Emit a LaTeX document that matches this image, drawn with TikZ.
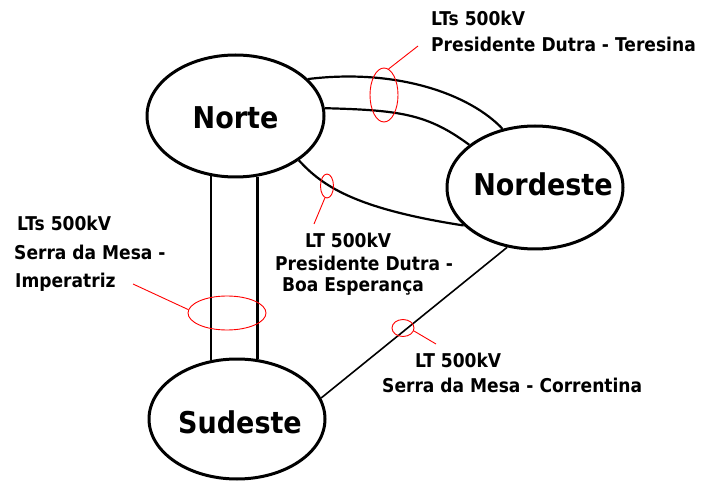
\documentclass[tikz,border=0pt]{standalone}
\usepackage{fontspec}
\setmainfont{DejaVu Sans}[FakeStretch=0.9]
\usetikzlibrary{shapes.geometric}
\begin{document}
\begin{tikzpicture}[x=1pt,y=-1pt,
  hub/.style={ellipse, draw, line width=3pt, inner sep=0pt},
  link/.style={line width=2.2pt},
  thinlink/.style={line width=1.6pt},
  ring/.style={ellipse, draw=red, line width=0.9pt, inner sep=0pt},
  pointer/.style={draw=red, line width=0.9pt},
  lbl/.style={anchor=base west, inner sep=0pt, font=\fontsize{19}{22}\selectfont\bfseries},
  big/.style={anchor=base, inner sep=0pt, font=\fontsize{30}{34}\selectfont\bfseries}]
\useasboundingbox (0,0) rectangle (702,481);
\fill[white] (0,0) rectangle (702,481);

% region ellipses
\node[hub, minimum width=177pt, minimum height=122pt] (norte) at (235.5,116) {};
\node[hub, minimum width=176pt, minimum height=123pt] (nordeste) at (535,187.5) {};
\node[hub, minimum width=176pt, minimum height=120pt] (sudeste) at (237,419) {};

\node[big] (tnorte) at (235.5,129) {Norte};
\node[big] (tnordeste) at (543,196) {Nordeste};
\node[big] (tsudeste) at (240,433) {Sudeste};

% connectors
\draw[link] (norte.-112) -- (norte.-112 |- sudeste.113.5);
\draw[link] (norte.-70) -- (norte.-70 |- sudeste.71);
\draw[link] (norte.27) .. controls +(90,-11) and +(-32,-34) .. (nordeste.119);
\draw[link] (norte.5) .. controls +(75,2) and +(-42,-31) .. (nordeste.147);
\draw[link] (norte.-35) .. controls +(23,25) and +(-110,-17) .. (nordeste.208);
\draw[thinlink] (nordeste.-115) -- (sudeste.14);

% red rings and pointers
\node[ring, minimum width=28pt, minimum height=54pt] (r1) at (384,95) {};
\node[ring, minimum width=13pt, minimum height=24pt] (r2) at (327,186) {};
\node[ring, minimum width=78pt, minimum height=34pt] (r3) at (227,313) {};
\node[ring, minimum width=22pt, minimum height=17pt] (r4) at (403,328) {};
\coordinate (p1) at (418,46);
\coordinate (p2) at (314,224);
\coordinate (p3) at (133,284);
\coordinate (p4) at (436,344);
\draw[pointer] (r1.80) -- (p1);
\draw[pointer] (r2.-100) -- (p2);
\draw[pointer] (r3.175) -- (p3);
\draw[pointer] (r4.-15) -- (p4);

% labels
\node[lbl] (l1a) at (431,26) {LTs 500kV};
\node[lbl] (l1b) at (431,52) {Presidente Dutra - Teresina};
\node[lbl] (l2a) at (17,231) {LTs 500kV};
\node[lbl] (l2b) at (14,260) {Serra da Mesa -};
\node[lbl] (l2c) at (15,288) {Imperatriz};
\node[lbl] (l3a) at (305,248) {LT 500kV};
\node[lbl] (l3b) at (275,271) {Presidente Dutra -};
\node[lbl] (l3c) at (282,291) {Boa Esperança};
\node[lbl] (l4a) at (415,367) {LT 500kV};
\node[lbl] (l4b) at (382,392) {Serra da Mesa - Correntina};
\end{tikzpicture}
\end{document}
